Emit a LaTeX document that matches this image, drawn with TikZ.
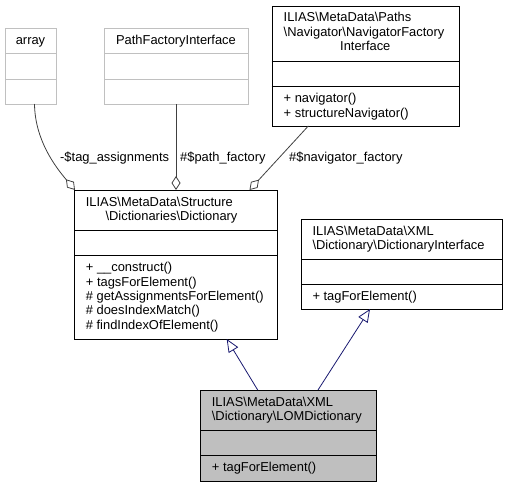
\documentclass[tikz,border=0pt]{standalone}
\usepackage{fontspec}
\setmainfont{Liberation Sans}
\usetikzlibrary{arrows.meta}
\definecolor{edgegray}{HTML}{404040}
\definecolor{navyedge}{HTML}{191970}
\definecolor{lightborder}{HTML}{C0C0C0}
\definecolor{lomfill}{HTML}{BFBFBF}
\newcommand{\bs}{\textbackslash}
\begin{document}
\begin{tikzpicture}[x=1pt,y=-1pt,
  font=\fontsize{12.9}{14.4}\selectfont,
  txt/.style={anchor=base west, inner sep=0pt},
  ctxt/.style={anchor=base, inner sep=0pt},
  box/.style={draw=black, line width=0.9pt, inner sep=0pt, anchor=north west},
  lbox/.style={draw=lightborder, line width=0.9pt, inner sep=0pt, anchor=north west},
  sepline/.style={line width=0.9pt},
  lsepline/.style={draw=lightborder, line width=0.9pt},
  agg/.style={draw=edgegray, line width=0.8pt, -{Diamond[open, length=14pt, width=9pt]}},
  gen/.style={draw=navyedge, line width=0.8pt, -{Triangle[open, length=13pt, width=11pt]}}
]
\useasboundingbox (0,0) rectangle (506,487);

% array
\node[lbox, minimum width=51pt, minimum height=76pt] (arr) at (5,28) {};
\draw[lsepline] (5,53) -- (56,53);
\draw[lsepline] (5,79) -- (56,79);
\node[ctxt] (arrt) at (30.5,45) {array};

% PathFactoryInterface
\node[lbox, minimum width=144pt, minimum height=76pt] (pfi) at (104,28) {};
\draw[lsepline] (104,53) -- (248,53);
\draw[lsepline] (104,79) -- (248,79);
\node[ctxt] (pfit) at (176,45) {PathFactoryInterface};

% NavigatorFactoryInterface
\node[box, minimum width=187.3pt, minimum height=120.3pt] (nav) at (271.7,5.7) {};
\draw[sepline] (271.7,61) -- (459,61);
\draw[sepline] (271.7,86) -- (459,86);
\node[txt] (navt1) at (283.5,22) {ILIAS\bs MetaData\bs Paths};
\node[txt] (navt2) at (283.5,36.5) {\bs Navigator\bs NavigatorFactory};
\node[ctxt] (navt3) at (365.3,51) {Interface};
\node[txt] (navm1) at (283.5,102.7) {+ navigator()};
\node[txt] (navm2) at (283.5,117.1) {+ structureNavigator()};

% Dictionary
\node[box, minimum width=202.7pt, minimum height=149pt] (dict) at (74.3,190) {};
\draw[sepline] (74.3,230) -- (277,230);
\draw[sepline] (74.3,255) -- (277,255);
\node[txt] (dictt1) at (85.7,206.3) {ILIAS\bs MetaData\bs Structure};
\node[ctxt] (dictt2) at (171.5,220.7) {\bs Dictionaries\bs Dictionary};
\node[txt] (dictm1) at (85.7,271.7) {+ \_\_construct()};
\node[txt] (dictm2) at (85.7,286.1) {+ tagsForElement()};
\node[txt] (dictm3) at (85.7,300.5) {\# getAssignmentsForElement()};
\node[txt] (dictm4) at (85.7,314.9) {\# doesIndexMatch()};
\node[txt] (dictm5) at (85.7,329.3) {\# findIndexOfElement()};

% DictionaryInterface
\node[box, minimum width=201pt, minimum height=90pt] (di) at (301,219) {};
\draw[sepline] (301,259) -- (502,259);
\draw[sepline] (301,284) -- (502,284);
\node[txt] (dit1) at (312.3,235.3) {ILIAS\bs MetaData\bs XML};
\node[txt] (dit2) at (312.3,249.7) {\bs Dictionary\bs DictionaryInterface};
\node[txt] (dim1) at (312.3,300.5) {+ tagForElement()};

% LOMDictionary
\node[box, fill=lomfill, minimum width=176pt, minimum height=90.7pt] (lom) at (200,390) {};
\draw[sepline] (200,430) -- (376,430);
\draw[sepline] (200,455) -- (376,455);
\node[txt] (lomt1) at (211.7,406.3) {ILIAS\bs MetaData\bs XML};
\node[txt] (lomt2) at (211.7,420.7) {\bs Dictionary\bs LOMDictionary};
\node[txt] (lomm1) at (211.7,471.5) {+ tagForElement()};

% connector end points
\coordinate (arrOut) at (34.5,104);
\coordinate (dictInA) at (75,190);
\coordinate (pfiOut) at (176,104);
\coordinate (dictInB) at (176,190);
\coordinate (navOut) at (308.3,126);
\coordinate (dictInC) at (249.5,190);
\coordinate (lomOutA) at (257.7,390);
\coordinate (dictOut) at (226.7,339);
\coordinate (lomOutB) at (318,390);
\coordinate (diOut) at (370,309);

% aggregation edges
\draw[agg] (arrOut) .. controls (35,140) and (55.2,166.6) .. (dictInA);
\draw[agg] (pfiOut) -- (dictInB);
\draw[agg] (navOut) -- (dictInC);

% edge labels
\node[txt] (lab1) at (60,161.5) {-\$tag\_assignments};
\node[txt] (lab2) at (180,161.5) {\#\$path\_factory};
\node[txt] (lab3) at (289,161.5) {\#\$navigator\_factory};

% generalization edges
\draw[gen] (lomOutA) -- (dictOut);
\draw[gen] (lomOutB) -- (diOut);
\end{tikzpicture}
\end{document}
